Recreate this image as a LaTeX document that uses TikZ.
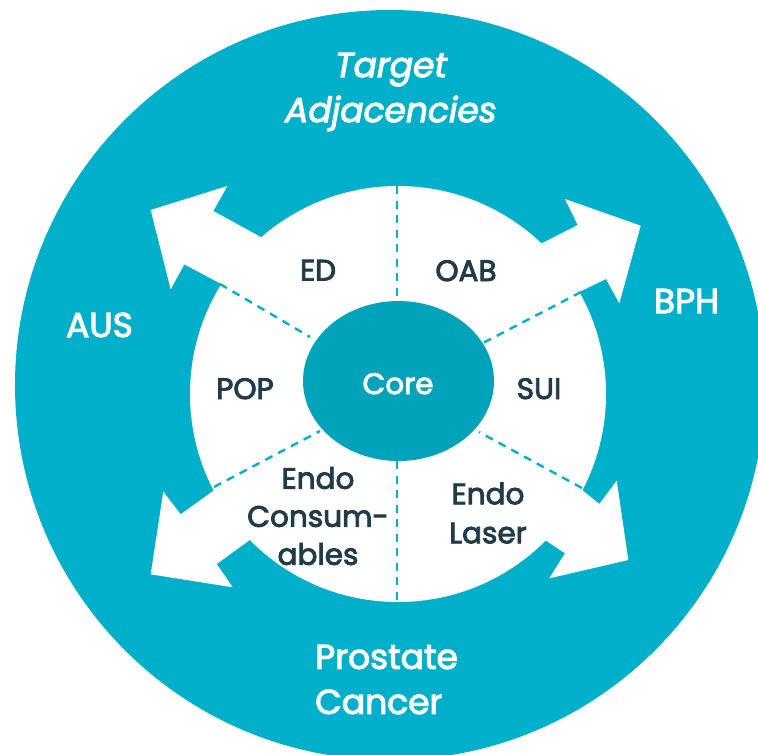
\documentclass[tikz,border=0pt]{standalone}
\usepackage{fontspec}
\setmainfont{Poppins}
\newfontfamily\labfont{Poppins}[FakeBold=3]
\usetikzlibrary{shapes.geometric}
\definecolor{tealout}{HTML}{00B0CA}
\definecolor{tealcore}{HTML}{00A3BA}
\definecolor{ink}{HTML}{203C48}
\begin{document}
\begin{tikzpicture}[x=1pt,y=-1pt,
  inlab/.style={text=ink, font=\labfont\fontsize{29.5}{38}\selectfont, align=center, inner sep=0pt},
  outlab/.style={text=white, font=\labfont\fontsize{34.5}{45}\selectfont, inner sep=0pt},
  dashline/.style={draw=tealout, line width=2.4pt, dash pattern=on 8pt off 6.5pt},
  arrowshape/.style={fill=white}]
\useasboundingbox (0,0) rectangle (758,755);
\clip (0,0) rectangle (758,755);
\fill[tealout] (390,385) circle[radius=375pt];
\fill[white] (398,394) circle[radius=208pt];
% arrows
\fill[arrowshape] (150.7,210) -- (227.3,186) -- (213.3,211) -- (290,253) -- (250,299.3) -- (184.3,264.3) -- (170.7,289.3) -- cycle;
\fill[arrowshape] (640.7,225.7) -- (565,199) -- (577.7,225) -- (515,257) -- (550,306) -- (606,279) -- (619.3,303.3) -- cycle;
\fill[arrowshape] (150.7,574.3) -- (163.3,491.7) -- (180.7,514.3) -- (245,468) -- (280,518) -- (216.7,564) -- (232.7,587.3) -- cycle;
\fill[arrowshape] (628.3,560) -- (616.7,480.7) -- (599.3,504) -- (550,464) -- (515,520) -- (565,553.3) -- (549.3,578.3) -- cycle;
% dashed dividers
\coordinate (vt1) at (397,186);
\coordinate (vt2) at (397,301);
\coordinate (vb1) at (397,461);
\coordinate (vb2) at (397,602);
\coordinate (ul1) at (220,284);
\coordinate (ul2) at (310,337);
\coordinate (ur1) at (581,292);
\coordinate (ur2) at (483,343);
\coordinate (ll1) at (214,487);
\coordinate (ll2) at (320,431);
\coordinate (lr1) at (582,488);
\coordinate (lr2) at (479,432);
\draw[dashline] (vt1) -- (vt2);
\draw[dashline] (vb1) -- (vb2);
\draw[dashline] (ul1) -- (ul2);
\draw[dashline] (ur1) -- (ur2);
\draw[dashline] (ll1) -- (ll2);
\draw[dashline] (lr1) -- (lr2);
% core
\node[ellipse, fill=tealcore, minimum width=191pt, minimum height=160pt, inner sep=0pt] (core) at (398.5,381) {};
\node[inlab, text=white, anchor=base] (coretext) at (398,394) {Core};
% inner labels
\node[inlab, anchor=base] (ed) at (318,280.5) {ED};
\node[inlab, anchor=base] (oab) at (466,281) {OAB};
\node[inlab, anchor=base] (pop) at (245,399) {POP};
\node[inlab, anchor=base] (sui) at (539,399) {SUI};
\node[inlab] (endoc) at (318,516) {Endo\\Consum-\\ables};
\node[inlab, font=\labfont\fontsize{29.5}{39}\selectfont] (endol) at (488,513) {Endo\\Laser};
% outer labels
\node[outlab, align=center, font=\labfont\itshape\fontsize{34.5}{45}\selectfont] (target) at (391,92) {Target\\Adjacencies};
\node[outlab, anchor=base] (aus) at (99.5,337) {AUS};
\node[outlab, anchor=base] (bph) at (686.5,313) {BPH};
\node[outlab, align=left, anchor=west] (prostate) at (315,679.5) {Prostate\\Cancer};
\end{tikzpicture}
\end{document}
